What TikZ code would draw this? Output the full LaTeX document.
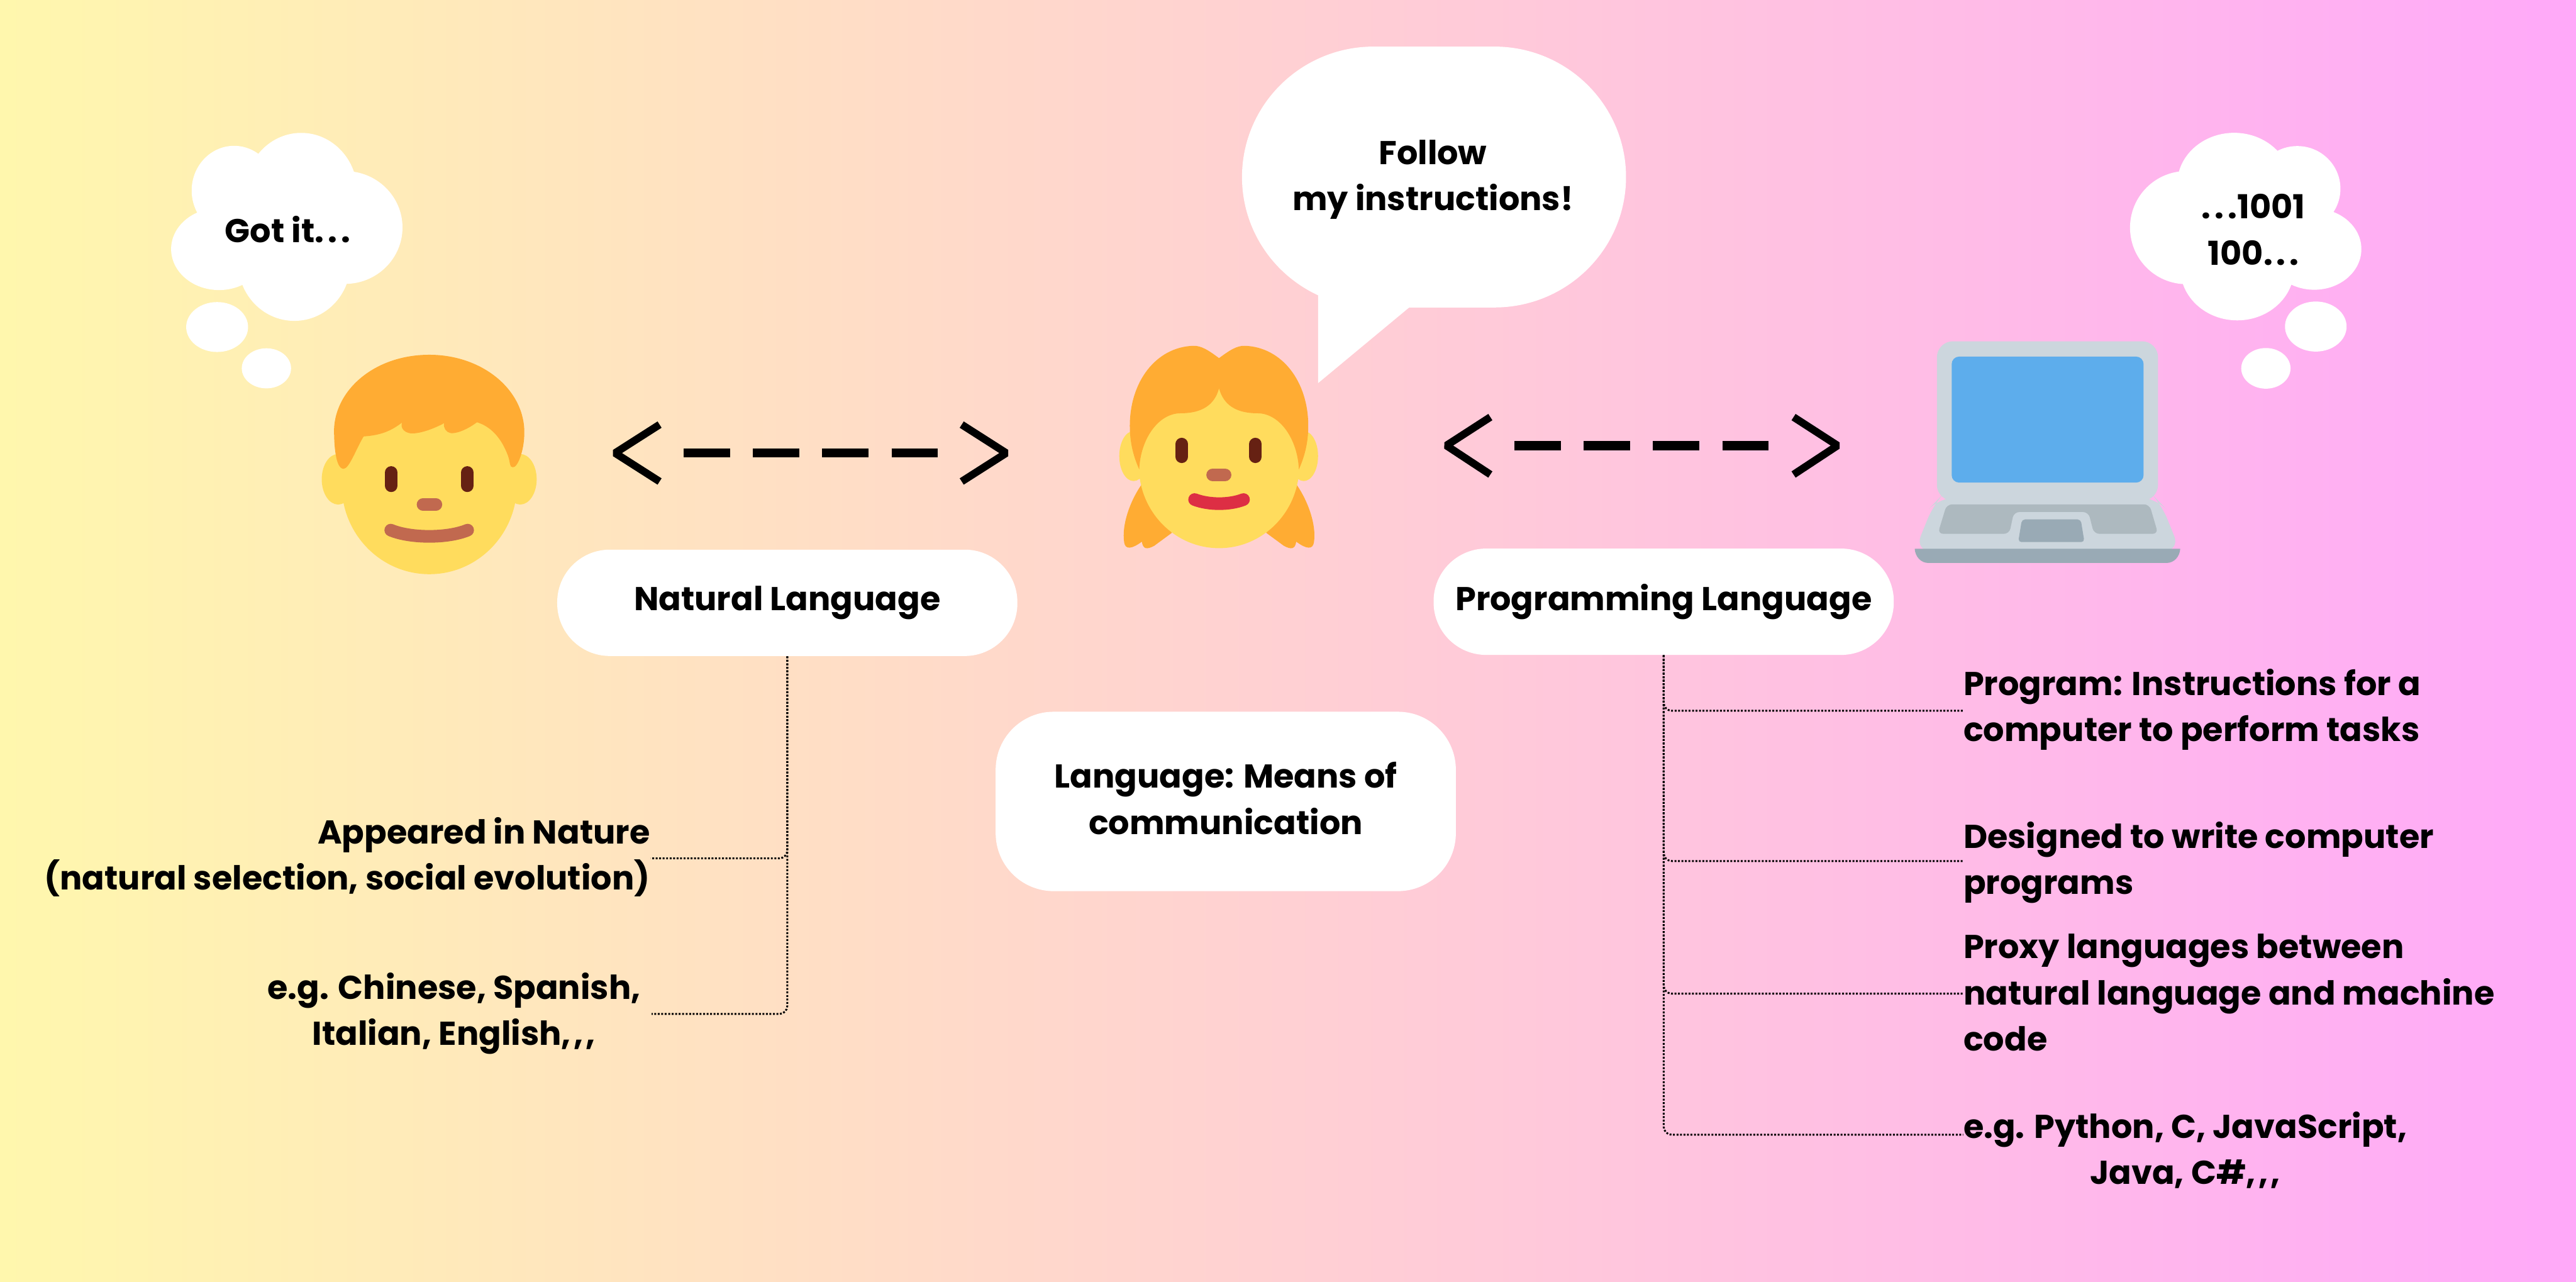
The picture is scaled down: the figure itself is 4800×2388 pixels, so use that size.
\documentclass[tikz,border=0pt]{standalone}
\usepackage{fontspec}
\setmainfont{Poppins}
\usepackage{xcolor}
\definecolor{bgleft}{HTML}{FFF7AD}
\definecolor{bgright}{HTML}{FFA9F9}
\definecolor{skinyellow}{HTML}{FFDC5D}
\definecolor{hairorange}{HTML}{FFAC33}
\definecolor{eyebrown}{HTML}{662113}
\definecolor{nosebrown}{HTML}{C1694F}
\definecolor{lipred}{HTML}{DD2E44}
\definecolor{casegray}{HTML}{CCD6DD}
\definecolor{keygray}{HTML}{ADB9BF}
\definecolor{basegray}{HTML}{99AAB5}
\definecolor{screenblue}{HTML}{5DADEC}
\newcommand{\wideperiods}{.\kern2pt.\kern2pt.}
\newcommand{\widecommas}{,\kern1.5pt,\kern1.5pt,}
\tikzset{
  label/.style={inner sep=0pt,font=\fontsize{17.5}{24.4}\selectfont\bfseries},
  pill/.style={label,fill=white,rounded corners=0.98cm,minimum width=8.57cm,minimum height=1.98cm},
  branch/.style={line width=0.035cm,dash pattern=on 0.035cm off 0.03cm,rounded corners=0.15cm},
  dashline/.style={line width=0.17cm,dash pattern=on 0.86cm off 0.43cm},
  chevron/.style={line width=0.14cm,line join=bevel},
  feature/.style={line width=0.235cm,line cap=round}
}
\begin{document}
\begin{tikzpicture}[x=0.01cm,y=-0.01cm]
  \shade[left color=bgleft,right color=bgright] (0,0) rectangle (4800,2388);

  \begin{scope}[shift={(250,220)},xscale=0.5102,yscale=0.5741]
    \fill[white] (365,235) ellipse (155 and 145) (610,240) ellipse (205 and 192)
      (770,355) ellipse (210 and 183) (310,425) ellipse (175 and 133)
      (585,470) ellipse (205 and 188) (550,350) ellipse (250 and 200)
      (303,678) ellipse (113 and 81) (483,812) ellipse (90 and 65);
    \fill[skinyellow] (745,1172) ellipse (60 and 82) (1410,1172) ellipse (60 and 82)
      (1078,1190) ellipse (320 and 290);
    \fill[hairorange] (730,1010) .. controls (735,880) and (880,768) .. (1078,768)
      .. controls (1270,768) and (1425,880) .. (1425,1020)
      .. controls (1425,1080) and (1400,1135) .. (1383,1133)
      .. controls (1370,1133) and (1375,1120) .. (1365,1095)
      .. controls (1340,1035) and (1300,1000) .. (1252,987)
      .. controls (1210,1015) and (1170,1025) .. (1155,1022)
      .. controls (1140,1020) and (1128,1005) .. (1132,990)
      .. controls (1090,1010) and (1040,1025) .. (1010,1023)
      .. controls (985,1020) and (972,1005) .. (978,988)
      .. controls (930,1022) and (885,1030) .. (838,1033)
      .. controls (810,1075) and (785,1138) .. (765,1138)
      .. controls (735,1138) and (730,1060) .. (730,1010) -- cycle;
    \foreach \x in {939,1217}{
      \draw[feature,eyebrown] (\x,1150) -- (\x,1193);
    }
    \draw[feature,nosebrown] (1055,1254) -- (1102,1254);
    \draw[feature,nosebrown] (937,1337) .. controls (1010,1364) and (1145,1364) .. (1218,1337);
  \end{scope}

  \begin{scope}[shift={(2000,60)},xscale=0.7015,yscale=0.6378]
    \fill[white] (798,423) ellipse (350 and 381);
    \fill[white] (1118,423) ellipse (350 and 381);
    \fill[white] (798,42) rectangle (1118,804);
    \fill[white] (650,700) -- (650,1025) -- (892,804) -- (892,700) -- cycle;
    \fill[hairorange] (182,1320) .. controls (150,1370) and (128,1440) .. (135,1490)
      .. controls (138,1512) and (155,1510) .. (182,1488)
      .. controls (185,1510) and (195,1512) .. (215,1500) -- (262,1462) -- cycle;
    \fill[hairorange] (592,1320) .. controls (624,1370) and (646,1440) .. (639,1490)
      .. controls (636,1512) and (619,1510) .. (592,1488)
      .. controls (589,1510) and (579,1512) .. (559,1500) -- (512,1462) -- cycle;
    \fill[skinyellow] (160,1238) ellipse (38 and 73) (612,1238) ellipse (38 and 73)
      (387,1267) ellipse (213 and 240);
    \fill[hairorange] (387,952) .. controls (360,930) and (340,915) .. (318,916)
      .. controls (220,920) and (150,1020) .. (150,1150)
      .. controls (150,1200) and (160,1240) .. (175,1277)
      .. controls (178,1190) and (225,1113) .. (285,1113)
      .. controls (340,1113) and (375,1090) .. (387,1040)
      .. controls (399,1090) and (434,1113) .. (489,1113)
      .. controls (549,1113) and (596,1190) .. (599,1277)
      .. controls (614,1240) and (624,1200) .. (624,1150)
      .. controls (624,1020) and (554,920) .. (456,916)
      .. controls (434,915) and (414,930) .. (387,952) -- cycle;
    \foreach \x in {288,484}{
      \draw[feature,eyebrown] (\x,1203) -- (\x,1240);
    }
    \draw[feature,nosebrown] (370,1293) -- (403,1293);
    \draw[feature,lipred] (322,1365) .. controls (360,1381) and (415,1381) .. (452,1365);
  \end{scope}

  \begin{scope}[shift={(3500,220)},xscale=0.574,yscale=0.5485]
    \fill[white] (1155,225) ellipse (185 and 175) (1360,240) ellipse (140 and 145)
      (1000,372) ellipse (183 and 192) (1415,445) ellipse (153 and 138)
      (1165,510) ellipse (185 and 177) (1180,370) ellipse (250 and 190)
      (1420,708) ellipse (100 and 85) (1258,850) ellipse (80 and 69);
    \fill[casegray,rounded corners=0.3cm] (118,1470) -- (180,1310) -- (200,1288) -- (898,1288)
      -- (918,1310) -- (980,1470) -- cycle;
    \fill[casegray,rounded corners=0.3cm] (190,758) rectangle (908,1300);
    \fill[screenblue,rounded corners=0.14cm] (238,810) rectangle (861,1238);
    \fill[keygray,rounded corners=0.1cm] (222,1312) -- (880,1312) -- (908,1412) -- (700,1412)
      -- (682,1338) -- (440,1338) -- (425,1412) -- (193,1412) -- cycle;
    \fill[basegray,rounded corners=0.06cm] (466,1363) -- (657,1363) -- (669,1440) -- (454,1440) -- cycle;
    \fill[basegray] (118,1463) -- (980,1463) .. controls (978,1490) and (960,1511) .. (935,1511)
      -- (163,1511) .. controls (138,1511) and (120,1490) .. (118,1463) -- cycle;
  \end{scope}

  \foreach \tipA/\endA/\tipB/\endB/\y/\ya/\yb in {1146/1229/1875/1792/844/791/897,2695/2777/3424/3342/830/777/884}{
    \draw[chevron] (\endA,\ya) -- (\tipA,\y) -- (\endA,\yb);
    \draw[chevron] (\endB,\ya) -- (\tipB,\y) -- (\endB,\yb);
  }
  \coordinate (dashAl) at (1274,844);
  \coordinate (dashAr) at (1747,844);
  \coordinate (dashBl) at (2822,830);
  \coordinate (dashBr) at (3295,830);
  \draw[dashline] (dashAl) -- (dashAr);
  \draw[dashline] (dashBl) -- (dashBr);

  \node[label] (gotit) at (536,427) {Got it\wideperiods};
  \node[label,align=center] (follow) at (2670,335) {Follow\\my instructions!};
  \node[label,align=center] (binary) at (4199,428) {\wideperiods 1001\\100\wideperiods};

  \node[pill] (natural) at (1467,1123) {Natural Language};
  \node[pill] (programming) at (3100,1121) {Programming Language};
  \node[pill,align=center,rounded corners=1.08cm,minimum height=3.34cm,text depth=0.12cm] (language) at (2284,1493) {Language: Means of\\communication};

  \node[label,align=right,anchor=east] (nature) at (1212,1597) {Appeared in Nature\\(natural selection, social evolution)};
  \node[label,align=center] (chinese) at (846,1888) {e.g. Chinese, Spanish,\\Italian, English\widecommas};
  \node[label,align=left,anchor=west] (instructions) at (3658,1322) {Program: Instructions for a\\computer to perform tasks};
  \node[label,align=left,anchor=west] (designed) at (3658,1607) {Designed to write computer\\programs};
  \node[label,align=left,anchor=west] (proxy) at (3658,1849) {Proxy languages between\\natural language and machine\\code};
  \node[label,align=center,anchor=west] (python) at (3658,2143) {e.g. Python, C, JavaScript,\\Java, C\#\widecommas};

  \draw[branch] (natural.south) |- ([yshift=-0.02cm]nature.east);
  \draw[branch] (natural.south) |- ([xshift=0.2cm,yshift=-0.01cm]chinese.east);
  \draw[branch] (programming.south) |- ([yshift=-0.02cm]instructions.west);
  \draw[branch] (programming.south) |- ([yshift=0.03cm]designed.west);
  \draw[branch] (programming.south) |- ([yshift=-0.02cm]proxy.west);
  \draw[branch] (programming.south) |- ([yshift=0.29cm]python.west);
\end{tikzpicture}
\end{document}
